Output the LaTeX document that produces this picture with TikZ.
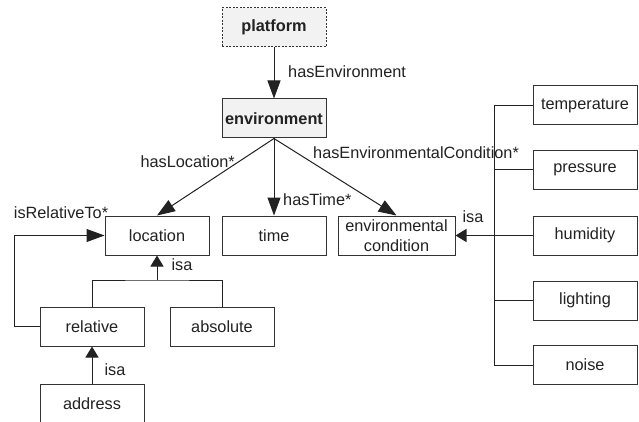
\documentclass[tikz,border=0pt]{standalone}
\usepackage{fontspec}
\setmainfont{Liberation Sans}
\usetikzlibrary{arrows.meta}
\definecolor{ink}{HTML}{222222}
\definecolor{boxline}{HTML}{333333}
\definecolor{boxfill}{HTML}{F2F2F2}
\tikzset{
  cls/.style={draw=boxline, line width=1pt, minimum width=104pt, minimum height=39pt, inner sep=0pt, text=ink, font=\fontsize{16.3}{19.5}\selectfont, align=center},
  topcls/.style={cls, fill=boxfill, font=\fontsize{16.3}{19.5}\selectfont\bfseries},
  lbl/.style={text=ink, font=\fontsize{16.3}{19.5}\selectfont, inner sep=0pt},
  rel/.style={draw=ink, line width=1pt, -{Triangle[length=18pt,width=13pt]}},
  isarr/.style={draw=ink, line width=1pt, -{Triangle[length=11pt,width=13pt]}},
  conn/.style={draw=ink, line width=1pt},
}
\begin{document}
\begin{tikzpicture}[x=1pt,y=-1pt]
\useasboundingbox (0,0) rectangle (639,422);
\clip (0,0) rectangle (639,422);
\fill[white] (0,0) rectangle (639,422);
% nodes
\node[topcls, dash pattern=on 2pt off 1.5pt] (platform) at (274,27.5) {platform};
\node[topcls] (env) at (274,118.5) {environment};
\node[cls] (location) at (157,235.5) {location};
\node[cls] (time) at (274,235.5) {time};
\node[cls, minimum width=117pt] (envcond) at (396.5,235.5) {environmental\\condition};
\node[cls] (temp) at (585,105.5) {temperature};
\node[cls] (press) at (585,170) {pressure};
\node[cls] (humid) at (585,235.5) {humidity};
\node[cls] (light) at (585,300.5) {lighting};
\node[cls] (noise) at (585,365) {noise};
\node[cls] (relative) at (92,326.5) {relative};
\node[cls] (absolute) at (222,326.5) {absolute};
\node[cls] (address) at (92,403.5) {address};
% coordinates
\coordinate (busT) at (494,105.5);
\coordinate (busB) at (494,365);
\coordinate (busM) at (494,235.5);
\coordinate (locJ) at (157,280);
\coordinate (relL) at (14,326.5);
\coordinate (relU) at (14,235.5);
% relation arrows
\draw[rel] (platform.south) -- (env.north);
\node[lbl, anchor=west] at (288,72) {hasEnvironment};
\draw[rel] (env.south) -- (location.north);
\node[lbl, anchor=east] at (235,162) {hasLocation*};
\draw[rel] (env.south) -- (time.north);
\node[lbl, anchor=west] at (283,200) {hasTime*};
\draw[rel] (env.south) -- (envcond.north);
\node[lbl, anchor=west] at (313,153) {hasEnvironmentalCondition*};
% env condition hierarchy
\draw[conn] (busT) -- (busB);
\draw[conn] (busT) -- (temp.west);
\draw[conn] (busT |- press.west) -- (press.west);
\draw[conn] (busM) -- (humid.west);
\draw[conn] (busT |- light.west) -- (light.west);
\draw[conn] (busB) -- (noise.west);
\draw[isarr, line width=1.6pt] (busM) -- (envcond.east);
\node[lbl] at (473,217) {isa};
% location hierarchy
\draw[conn] (relative.north) |- (locJ) -| (absolute.north);
\draw[isarr] (locJ) -- (location.south);
\node[lbl] at (182,265) {isa};
\draw[rel] (relative.west) -- (relL) -- (relU) -- (location.west);
\node[lbl] at (61,213) {isRelativeTo*};
\draw[isarr] (address.north) -- (relative.south);
\node[lbl] at (115,370) {isa};
\end{tikzpicture}
\end{document}
